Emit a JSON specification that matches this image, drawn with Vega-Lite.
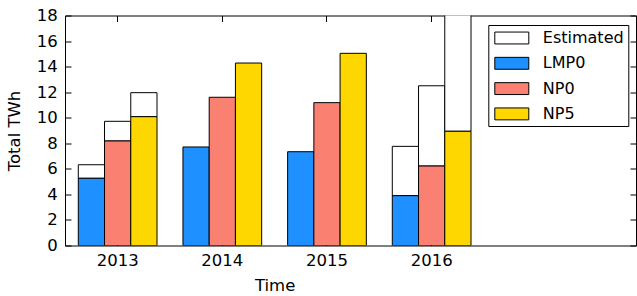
{
  "$schema": "https://vega.github.io/schema/vega-lite/v6.json",
  "autosize": "none",
  "padding": {"left": 65, "top": 15.5, "right": 1, "bottom": 50.5},
  "width": 571,
  "height": 230,
  "data": {
    "values": [
      {"year": "2013", "series": "LMP0", "actual": 5.26, "total": 6.32},
      {"year": "2013", "series": "NP0", "actual": 8.18, "total": 9.72},
      {"year": "2013", "series": "NP5", "actual": 10.08, "total": 11.96},
      {"year": "2014", "series": "LMP0", "actual": 7.71, "total": null},
      {"year": "2014", "series": "NP0", "actual": 11.6, "total": null},
      {"year": "2014", "series": "NP5", "actual": 14.28, "total": null},
      {"year": "2015", "series": "LMP0", "actual": 7.34, "total": null},
      {"year": "2015", "series": "NP0", "actual": 11.18, "total": null},
      {"year": "2015", "series": "NP5", "actual": 15.04, "total": null},
      {"year": "2016", "series": "LMP0", "actual": 3.9, "total": 7.76},
      {"year": "2016", "series": "NP0", "actual": 6.22, "total": 12.5},
      {"year": "2016", "series": "NP5", "actual": 8.94, "total": 20}
    ]
  },
  "encoding": {
    "x": {
      "field": "year", "type": "nominal",
      "scale": {"domain": ["2013", "2014", "2015", "2016"], "range": [0, 419.3], "paddingInner": 0.248, "paddingOuter": 0.127}
    },
    "xOffset": {
      "field": "series", "type": "nominal",
      "scale": {"domain": ["LMP0", "NP0", "NP5"], "paddingInner": 0, "paddingOuter": 0}
    }
  },
  "layer": [
    {
      "transform": [{"filter": "datum.total != null"}],
      "mark": {"type": "bar", "stroke": "black", "strokeWidth": 1, "clip": true},
      "encoding": {
        "x": {
          "field": "year", "type": "nominal",
          "axis": {"title": "Time", "labelAngle": 0, "orient": "bottom"}
        },
        "y": {
          "field": "total", "type": "quantitative",
          "scale": {"domain": [0, 18], "nice": false, "zero": true},
          "axis": {"title": "Total TWh", "orient": "left", "values": [0, 2, 4, 6, 8, 10, 12, 14, 16, 18]}
        },
        "y2": {"field": "actual"},
        "fill": {
          "datum": "Estimated",
          "type": "nominal",
          "scale": {"domain": ["Estimated", "LMP0", "NP0", "NP5"], "range": ["#ffffff", "#1e90ff", "#fa8072", "#ffd700"]},
          "legend": {"title": null}
        }
      }
    },
    {
      "mark": {"type": "bar", "stroke": "black", "strokeWidth": 1, "clip": true},
      "encoding": {
        "x": {"field": "year", "type": "nominal", "axis": null},
        "y": {"field": "actual", "type": "quantitative", "stack": null, "axis": null},
        "fill": {"field": "series", "type": "nominal", "legend": {"title": null}}
      }
    },
    {
      "mark": {"type": "bar", "opacity": 0},
      "encoding": {
        "x": {
          "field": "year", "type": "nominal",
          "axis": {"orient": "top", "labels": false, "title": null}
        },
        "y": {
          "field": "actual", "type": "quantitative", "stack": null,
          "axis": {"orient": "right", "labels": false, "title": null, "values": [0, 2, 4, 6, 8, 10, 12, 14, 16, 18]}
        }
      }
    }
  ],
  "resolve": {"axis": {"x": "independent", "y": "independent"}},
  "config": {
    "font": "DejaVu Sans",
    "view": {"stroke": "black", "strokeWidth": 1},
    "axis": {
      "grid": false,
      "domain": false,
      "ticks": true,
      "tickColor": "black",
      "tickSize": -6,
      "tickWidth": 1,
      "labelFont": "DejaVu Sans",
      "labelFontSize": 16.5,
      "labelColor": "black",
      "titleFont": "DejaVu Sans",
      "titleFontSize": 16.5,
      "titleFontWeight": "normal",
      "titleColor": "black"
    },
    "axisLeft": {"labelPadding": 13.7, "titlePadding": 14},
    "axisBottom": {"labelPadding": 13, "titlePadding": 8},
    "legend": {
      "orient": "none",
      "legendX": 423.3,
      "legendY": 9.5,
      "strokeColor": "black",
      "strokeWidth": 1,
      "padding": 4,
      "fillColor": "white",
      "symbolType": "M-2,-0.7H2V0.7H-2Z",
      "symbolSize": 289,
      "symbolStrokeColor": "black",
      "symbolStrokeWidth": 1,
      "symbolOffset": 10.5,
      "labelOffset": 22,
      "rowPadding": 8.3,
      "labelFont": "DejaVu Sans",
      "labelFontSize": 16,
      "labelColor": "black"
    }
  }
}
